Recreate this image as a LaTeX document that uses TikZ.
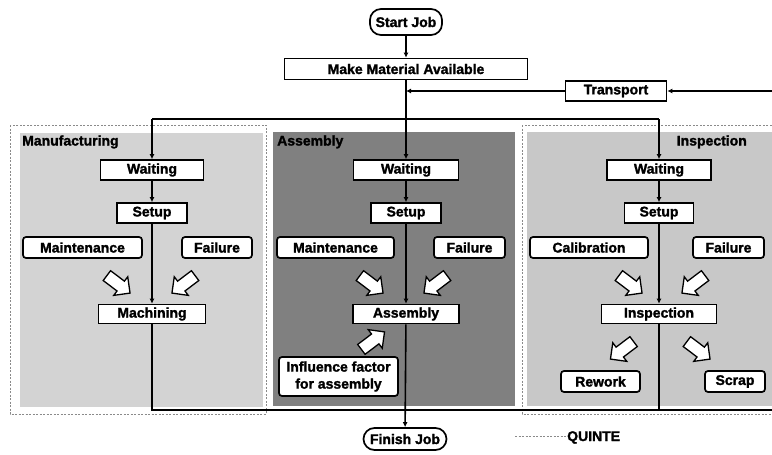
\documentclass[tikz,border=0pt]{standalone}
\usepackage{fontspec}
\setmainfont{Liberation Sans}[BoldFeatures={FakeBold=1.6}]
\usetikzlibrary{arrows.meta,shapes.arrows}
\definecolor{mfgfill}{HTML}{D3D3D3}
\definecolor{asmfill}{HTML}{808080}
\definecolor{inspfill}{HTML}{C8C8C8}
\definecolor{zoneline}{HTML}{8A8A8A}
\begin{document}
\begin{tikzpicture}[x=1pt,y=-1pt,
  every node/.style={font=\bfseries\fontsize{14}{17}\selectfont, text=black},
  box/.style={draw, line width=1.7pt, fill=white, minimum height=20pt, inner sep=1pt},
  rbox/.style={box, rounded corners=3pt, minimum height=21pt},
  term/.style={box, rounded corners=11pt, minimum height=24pt},
  conn/.style={line width=1.6pt},
  arr/.style={conn, -{Latex[length=5pt,width=5pt]}},
  barrow/.style={single arrow, draw, fill=white, line width=1.3pt, minimum height=29pt,
    single arrow head extend=5.5pt, inner sep=5.5pt, single arrow head indent=0pt},
  zone/.style={draw=zoneline, line width=0.8pt, dash pattern=on 2pt off 1.5pt},
  lbl/.style={inner sep=0pt}
]
\useasboundingbox (0,0) rectangle (772,455);
\clip (0,0) rectangle (772,455);

% background panels
\fill[mfgfill] (20,133) rectangle (263,407);
\fill[asmfill] (273,132) rectangle (515,406);
\fill[inspfill] (527,132) rectangle (775,406);
\draw[zone] (10,125) rectangle (266,414);
\draw[zone] (522,125) rectangle (790,414);

% panel labels
\node[lbl, anchor=base west] (lmfg) at (22,145.5) {Manufacturing};
\node[lbl, anchor=base west] (lasm) at (277,145.5) {Assembly};
\node[lbl, anchor=base east] (linsp) at (747,145.5) {Inspection};

% top
\node[term, minimum width=72pt, minimum height=26pt] (start) at (406,22) {Start Job};
\node[box, minimum width=243pt, minimum height=21pt] (mma) at (406,69) {Make Material Available};
\node[box, minimum width=101pt] (tr) at (616,91) {Transport};

% manufacturing
\node[box, minimum width=103pt] (mw) at (152,170) {Waiting};
\node[box, minimum width=70pt] (ms) at (152,213) {Setup};
\node[rbox, minimum width=119pt] (mmaint) at (82.5,247.5) {Maintenance};
\node[rbox, minimum width=70pt] (mfail) at (217,247.5) {Failure};
\node[box, minimum width=107pt, minimum height=19pt] (mach) at (152,314) {Machining};

% assembly
\node[box, minimum width=105pt] (aw) at (406,170) {Waiting};
\node[box, minimum width=70pt] (as) at (406,213) {Setup};
\node[rbox, minimum width=117pt] (amaint) at (335.5,247.5) {Maintenance};
\node[rbox, minimum width=71pt] (afail) at (469.5,247.5) {Failure};
\node[box, minimum width=106pt, minimum height=19pt] (asm) at (406,314) {Assembly};
\node[rbox, minimum width=119pt, minimum height=39pt, align=center] (infl) at (338.5,376.5) {Influence factor\\for assembly};

% inspection
\node[box, minimum width=104pt] (iw) at (659,170) {Waiting};
\node[box, minimum width=69pt] (is) at (659,213) {Setup};
\node[rbox, minimum width=118pt] (ical) at (589,247.5) {Calibration};
\node[rbox, minimum width=71pt] (ifail) at (728.5,247.5) {Failure};
\node[box, minimum width=115pt, minimum height=19pt] (insp) at (659,314) {Inspection};
\node[rbox, minimum width=79pt] (rew) at (600.5,381.5) {Rework};
\node[rbox, minimum width=60pt] (scrap) at (735,381.5) {Scrap};

% finish and legend
\node[term, minimum width=83pt, minimum height=22pt] (finish) at (405,439) {Finish Job};
\coordinate (legA) at (515,436);
\node[lbl, anchor=base west] (quinte) at (567,441) {QUINTE};
\draw[zone] (legA) -- (legA -| quinte.west);

% block arrows
\node[barrow, rotate=-37] (ba1) at (116,282.5) {};
\node[barrow, rotate=-143] (ba2) at (186,282.5) {};
\node[barrow, rotate=-37] (ba3) at (369,282.5) {};
\node[barrow, rotate=-143] (ba4) at (438,282.5) {};
\node[barrow, rotate=37] (ba5) at (370.5,342.5) {};
\node[barrow, rotate=-37] (ba6) at (628,282.5) {};
\node[barrow, rotate=-143] (ba7) at (696,282.5) {};
\node[barrow, rotate=-143] (ba8) at (624.5,348.5) {};
\node[barrow, rotate=-37] (ba9) at (696,348.5) {};

% connectors
\coordinate (rin) at (772,91);
\coordinate (split) at (406,119);
\coordinate (rout) at (772,410);
\draw[arr] (start) -- (mma);
\draw[arr] (mma) -- (aw);
\draw[arr] (rin) -- (tr);
\draw[arr] (tr.west) -- (tr.west -| mma.south);
\draw[conn] (split -| mw.north) -- (split -| iw.north);
\draw[arr] (split -| mw.north) -- (mw.north);
\draw[arr] (split -| iw.north) -- (iw.north);
\draw[arr] (mw) -- (ms);
\draw[arr] (ms) -- (mach);
\draw[arr] (aw) -- (as);
\draw[arr] (as) -- (asm);
\draw[arr] (iw) -- (is);
\draw[arr] (is) -- (insp);
\draw[conn] (mach.south) |- (rout);
\draw[conn] (insp.south) -- (insp.south |- rout);
\draw[arr] (asm) -- (finish);
\end{tikzpicture}
\end{document}
